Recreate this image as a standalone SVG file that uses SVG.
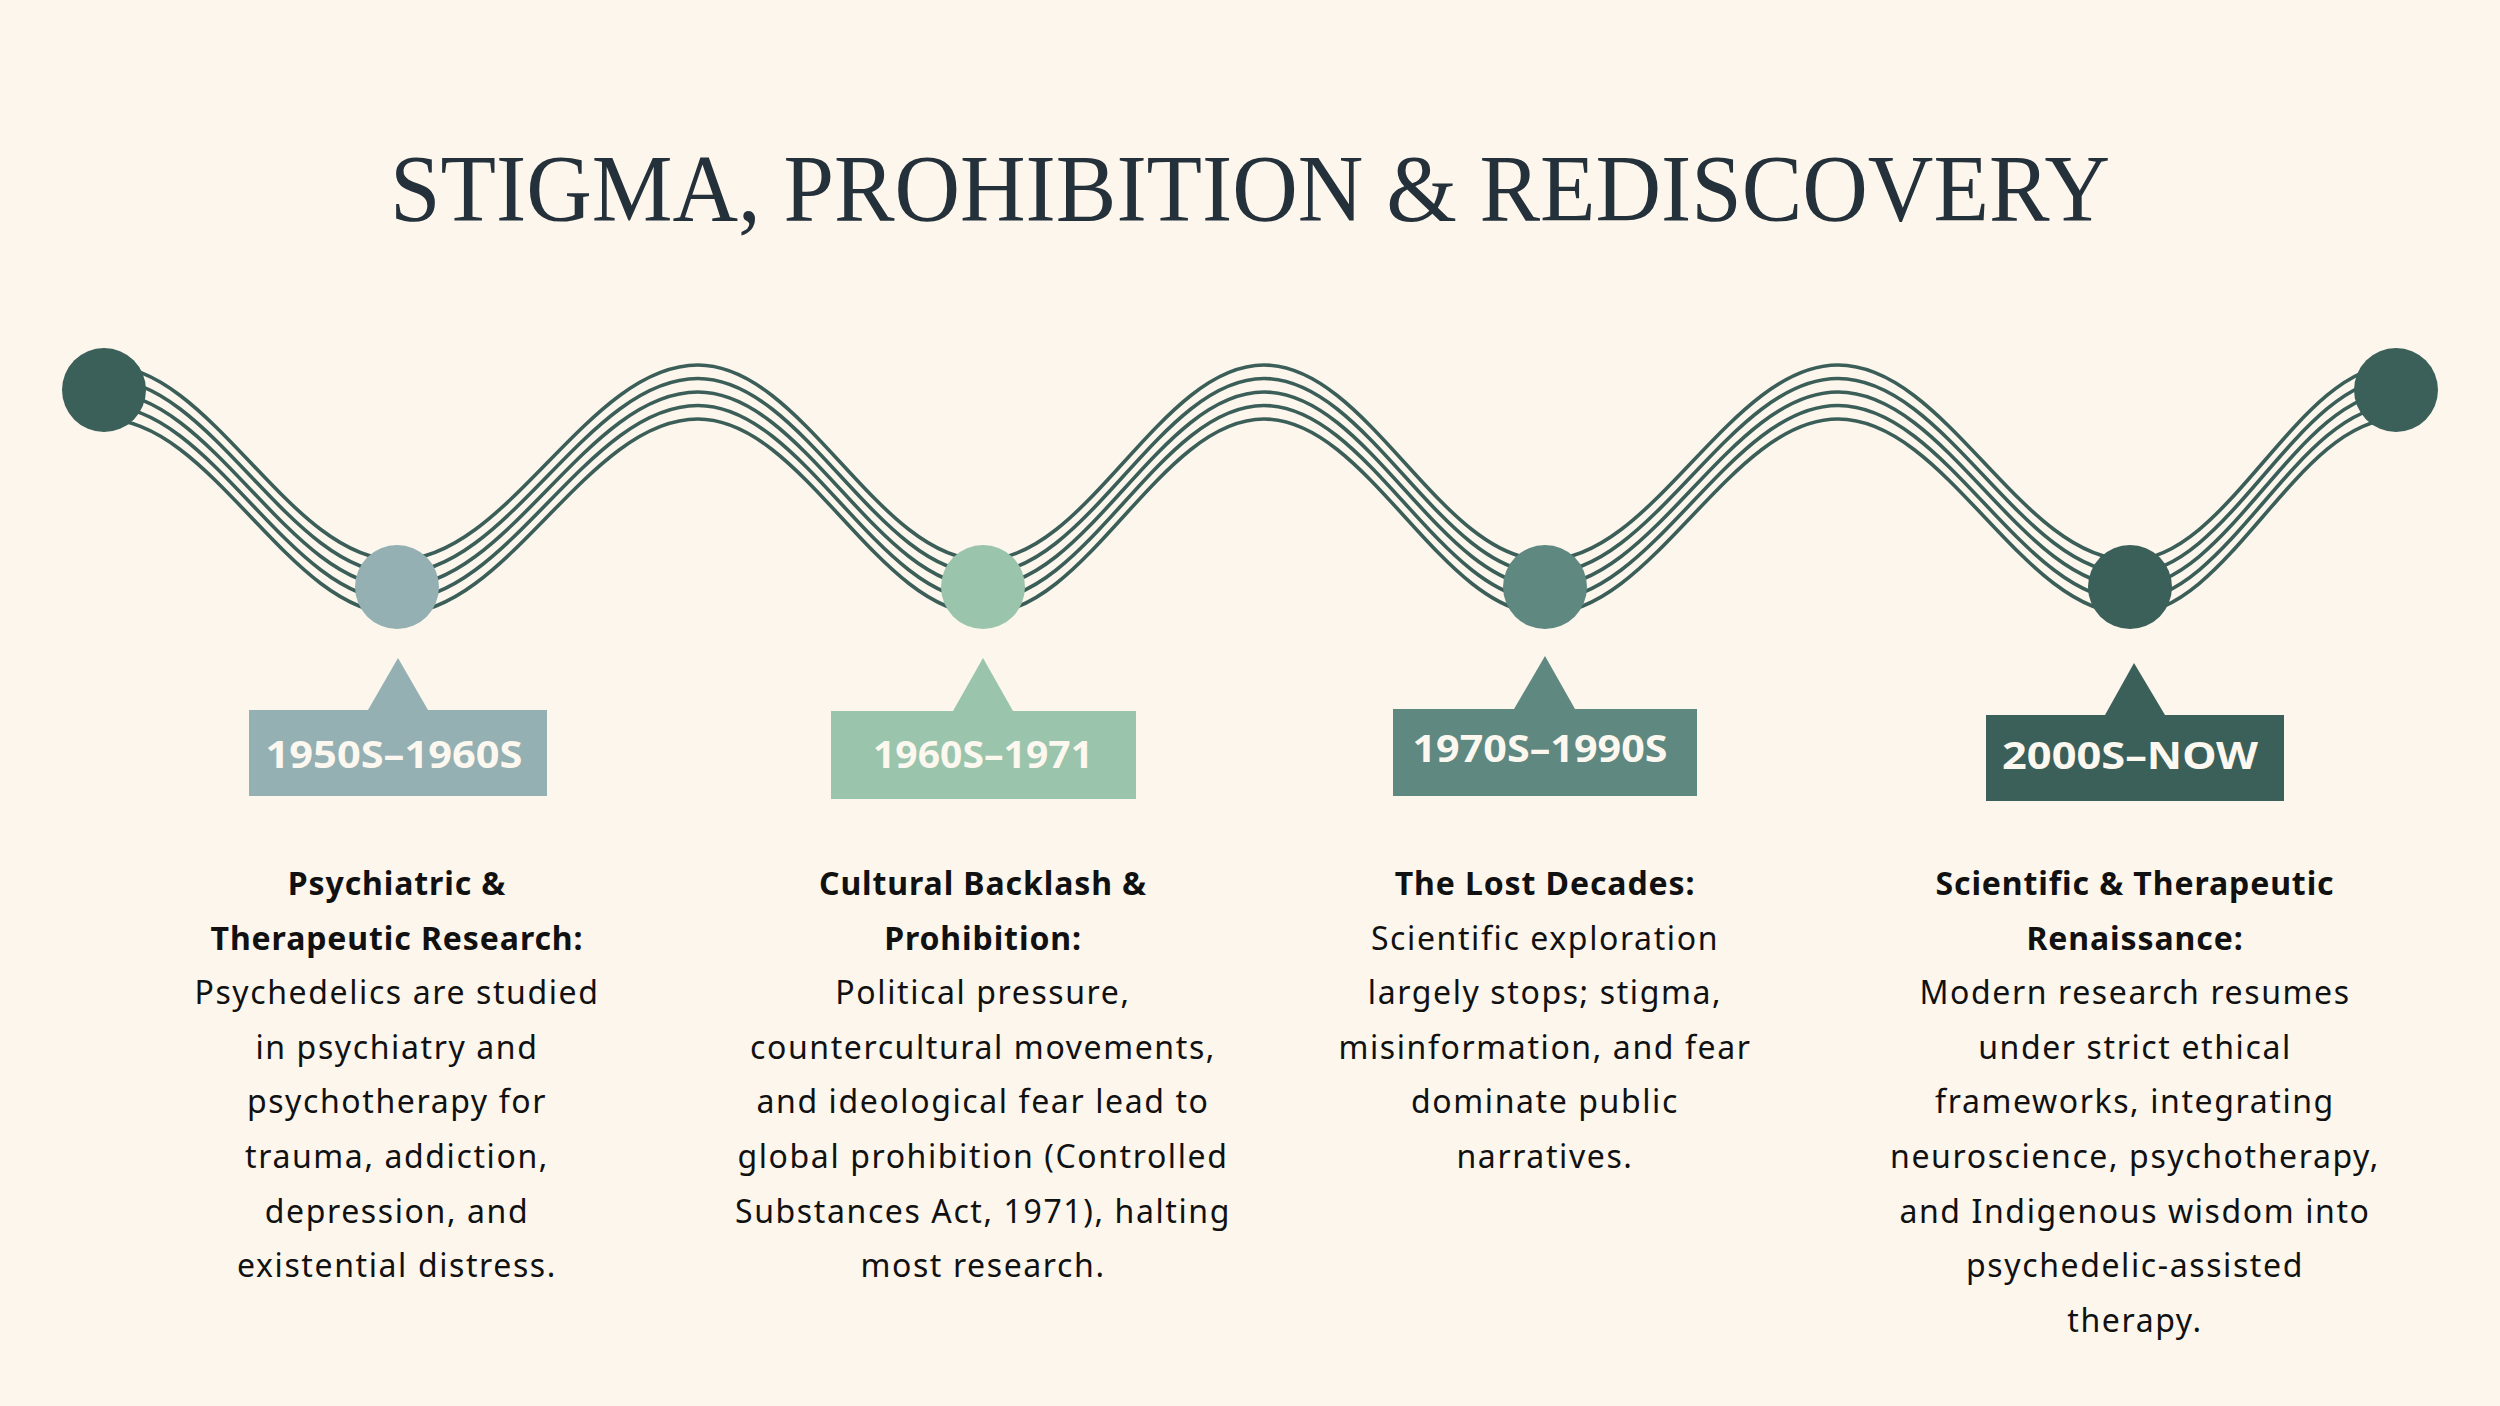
<svg xmlns="http://www.w3.org/2000/svg" width="2500" height="1406" viewBox="0 0 2500 1406">
  <style>
    .title { font-family: "Liberation Serif", "DejaVu Serif", serif; font-size: 95px; fill: #24313a; }
    .lbl { font-family: "Noto Sans", "Liberation Sans", sans-serif; font-size: 37px; font-weight: 700; fill: #fcf7ef; text-anchor: middle; }
    .hd { font-family: "Noto Sans", "Liberation Sans", sans-serif; font-size: 32px; font-weight: 700; fill: #111111; text-anchor: middle; letter-spacing: 0.9px; }
    .bd { font-family: "Noto Sans", "Liberation Sans", sans-serif; font-size: 32px; font-weight: 400; fill: #111111; text-anchor: middle; letter-spacing: 1.6px; }
    .wave { fill: none; stroke: #3b5f58; stroke-width: 3.6; }
  </style>
  <defs>
    <path id="wavePath" d="M104,392 C212,392 289,587 397,587 C508,587 587,392 698,392 C803,392 878,587 983,587 C1087,587 1160,392 1264,392 C1368,392 1441,587 1545,587 C1653,587 1730,392 1838,392 C1946,392 2022,587 2130,587 C2228,587 2298,392 2396,392"/>
  </defs>
  <rect x="0" y="0" width="2500" height="1406" fill="#fcf6ed"/>

  <g id="title">
    <text class="title" x="1250" y="221" text-anchor="middle" textLength="1720" lengthAdjust="spacingAndGlyphs">STIGMA, PROHIBITION &amp; REDISCOVERY</text>
  </g>

  <g id="connectors">
    <use href="#wavePath" class="wave" transform="translate(0,-27)"/>
    <use href="#wavePath" class="wave" transform="translate(0,-13.5)"/>
    <use href="#wavePath" class="wave"/>
    <use href="#wavePath" class="wave" transform="translate(0,13.5)"/>
    <use href="#wavePath" class="wave" transform="translate(0,27)"/>
  </g>

  <g id="start">
    <circle cx="104" cy="390" r="42" fill="#3b5f59"/>
  </g>
  <g id="end">
    <circle cx="2396" cy="390" r="42" fill="#3b5f59"/>
  </g>

  <g id="node-1950s">
    <circle cx="397" cy="587" r="42" fill="#94b0b2"/>
    <path d="M249,710 H368 L398,658 L428,710 H547 V796 H249 Z" fill="#94b0b2"/>
    <text class="lbl" x="394" y="768" textLength="257" lengthAdjust="spacingAndGlyphs">1950S–1960S</text>
    <text class="hd" x="397" y="895">Psychiatric &amp;</text>
    <text class="hd" x="397" y="949.6">Therapeutic Research:</text>
    <text class="bd" x="397" y="1004.2">Psychedelics are studied</text>
    <text class="bd" x="397" y="1058.8">in psychiatry and</text>
    <text class="bd" x="397" y="1113.4">psychotherapy for</text>
    <text class="bd" x="397" y="1168">trauma, addiction,</text>
    <text class="bd" x="397" y="1222.6">depression, and</text>
    <text class="bd" x="397" y="1277.2">existential distress.</text>
  </g>

  <g id="node-1960s">
    <circle cx="983" cy="587" r="42" fill="#9ac4ab"/>
    <path d="M831,711 H953 L983,658 L1013,711 H1136 V799 H831 Z" fill="#9ac4ab"/>
    <text class="lbl" x="983" y="768" textLength="220" lengthAdjust="spacingAndGlyphs">1960S–1971</text>
    <text class="hd" x="983" y="895">Cultural Backlash &amp;</text>
    <text class="hd" x="983" y="949.6">Prohibition:</text>
    <text class="bd" x="983" y="1004.2">Political pressure,</text>
    <text class="bd" x="983" y="1058.8">countercultural movements,</text>
    <text class="bd" x="983" y="1113.4">and ideological fear lead to</text>
    <text class="bd" x="983" y="1168">global prohibition (Controlled</text>
    <text class="bd" x="983" y="1222.6">Substances Act, 1971), halting</text>
    <text class="bd" x="983" y="1277.2">most research.</text>
  </g>

  <g id="node-1970s">
    <circle cx="1545" cy="587" r="42" fill="#5f8880"/>
    <path d="M1393,709 H1514 L1545,656 L1575,709 H1697 V796 H1393 Z" fill="#5f8880"/>
    <text class="lbl" x="1540" y="762" textLength="255" lengthAdjust="spacingAndGlyphs">1970S–1990S</text>
    <text class="hd" x="1545" y="895">The Lost Decades:</text>
    <text class="bd" x="1545" y="949.6">Scientific exploration</text>
    <text class="bd" x="1545" y="1004.2">largely stops; stigma,</text>
    <text class="bd" x="1545" y="1058.8">misinformation, and fear</text>
    <text class="bd" x="1545" y="1113.4">dominate public</text>
    <text class="bd" x="1545" y="1168">narratives.</text>
  </g>

  <g id="node-2000s">
    <circle cx="2130" cy="587" r="42" fill="#3b5f59"/>
    <path d="M1986,715 H2105 L2134,663 L2165,715 H2284 V801 H1986 Z" fill="#3b5f59"/>
    <text class="lbl" x="2130" y="769" textLength="256" lengthAdjust="spacingAndGlyphs">2000S–NOW</text>
    <text class="hd" x="2135" y="895">Scientific &amp; Therapeutic</text>
    <text class="hd" x="2135" y="949.6">Renaissance:</text>
    <text class="bd" x="2135" y="1004.2">Modern research resumes</text>
    <text class="bd" x="2135" y="1058.8">under strict ethical</text>
    <text class="bd" x="2135" y="1113.4">frameworks, integrating</text>
    <text class="bd" x="2135" y="1168">neuroscience, psychotherapy,</text>
    <text class="bd" x="2135" y="1222.6">and Indigenous wisdom into</text>
    <text class="bd" x="2135" y="1277.2">psychedelic-assisted</text>
    <text class="bd" x="2135" y="1331.8">therapy.</text>
  </g>
</svg>
